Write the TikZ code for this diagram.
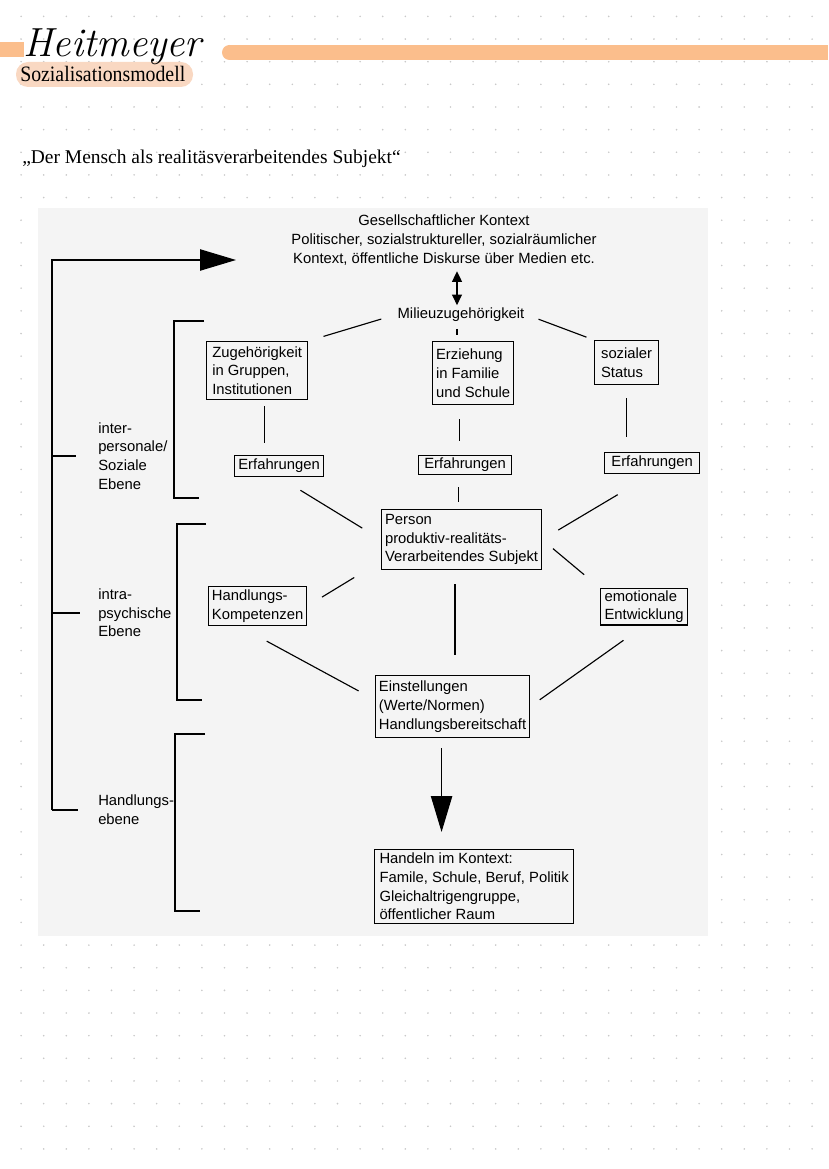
\documentclass[tikz,border=0pt]{standalone}
\usepackage{fontspec}
\usepackage{xcolor}
\usepackage{tikz}
\usetikzlibrary{arrows.meta}
\newfontfamily\diafont{Liberation Sans}
\newfontfamily\quotefont{Liberation Serif}
\newfontfamily\narrowserif[FakeStretch=0.9]{Liberation Serif}
\definecolor{panelgray}{HTML}{F4F4F4}
\definecolor{barorange}{HTML}{FBBE8C}
\definecolor{pillpeach}{HTML}{F9D8C2}
\definecolor{dotgray}{HTML}{C9C9C9}

\begin{document}
\begin{tikzpicture}[x=0.75pt, y=-0.75pt,
	dia/.style={font=\diafont\fontsize{11.1}{14}\selectfont},
	box/.style={dia, draw=black, line width=0.9pt, align=left, inner xsep=2.5pt, inner ysep=1.5pt, anchor=north west},
	lbl/.style={dia, align=left, inner sep=0pt, anchor=west},
	link/.style={draw=black, line width=0.85pt},
	dblarrow/.style={draw=black, line width=0.9pt, arrows={Triangle[length=8pt,width=7.5pt]-Triangle[length=8pt,width=7.5pt]}},
	bigarrow/.style={draw=black, line width=0.9pt, arrows={-Triangle[length=27pt,width=16pt]}}]
	\useasboundingbox (0,0) rectangle (828,1169);
	% dotted paper
	\foreach \gx in {0,...,35}
		\foreach \gy in {0,...,50}
			\fill[dotgray] (21.1+22.6*\gx, 16.4+22.65*\gy) circle [radius=0.9];
	% header
	\fill[barorange] (0,42) rectangle (24,57);
	\fill[barorange] (229.5,45) rectangle (828,60);
	\fill[barorange] (229.5,52.5) circle [radius=7.5];
	\fill[pillpeach, rounded corners=9pt] (16,62) rectangle (193,87);
	\node[anchor=base west, inner sep=0pt, font=\fontsize{30.5}{30.5}\selectfont\itshape] (brand) at (23,57) {Heitmeyer};
	\node[anchor=base west, inner sep=0pt, font=\narrowserif\fontsize{16.5}{16.5}\selectfont] (subtitle) at (20,82) {Sozialisationsmodell};
	\node[anchor=base west, inner sep=0pt, font=\quotefont\fontsize{14.6}{16}\selectfont] (motto) at (22,164) {„Der Mensch als realitäsverarbeitendes Subjekt“};
	% panel
	\fill[panelgray] (38,208) rectangle (708,936);

	\node[dia, align=center, inner sep=0pt] (kontext) at (444,240) {Gesellschaftlicher Kontext\\Politischer, sozialstruktureller, sozialräumlicher\\Kontext, öffentliche Diskurse über Medien etc.};
	\node[dia, inner sep=2pt] (milieu) at (461,315) {Milieuzugehörigkeit};
	\draw[dblarrow, shorten <=4.5pt] ([xshift=-3pt]milieu.north |- kontext.south) -- ([xshift=-3pt]milieu.north);

	\node[box, minimum width=75.75pt, minimum height=43.5pt] (zug) at (206,341) {Zugehörigkeit\\in Gruppen,\\Institutionen};
	\node[box, minimum width=60.75pt, minimum height=47.25pt] (erz) at (432,341) {Erziehung\\in Familie\\und Schule};
	\node[box, minimum width=48pt, minimum height=33pt] (status) at (594,340) {sozialer\\Status};
	\node[box, minimum width=66.75pt, minimum height=15.75pt] (erf1) at (234,455) {Erfahrungen};
	\node[box, minimum width=69.75pt, minimum height=14.25pt] (erf2) at (418,455) {Erfahrungen};
	\node[box, minimum width=71.25pt, minimum height=15.75pt] (erf3) at (604,452) {Erfahrungen};
	\node[box, minimum width=120pt, minimum height=45pt] (person) at (381,509) {Person\\produktiv-realitäts-\\Verarbeitendes Subjekt};
	\node[box, minimum width=72pt, minimum height=29.25pt] (komp) at (208,586) {Handlungs-\\Kompetenzen};
	\node[box, minimum width=65.25pt, minimum height=26.25pt] (emot) at (600,588) {emotionale\\Entwicklung};
	\node[box, minimum width=114.75pt, minimum height=46.5pt] (einst) at (375,675) {Einstellungen\\(Werte/Normen)\\Handlungsbereitschaft};
	\node[box, minimum width=149.25pt, minimum height=55.5pt] (handeln) at (374,849) {Handeln im Kontext:\\Famile, Schule, Beruf, Politik\\Gleichaltrigengruppe,\\öffentlicher Raum};

	\draw[link, shorten <=10.5pt, shorten >=12pt] (milieu.west) -- (zug.north east);
	\draw[link, shorten <=9pt, shorten >=6pt] (milieu.east) -- (status.north west);
	\draw[link, shorten <=3pt, shorten >=4.5pt] ([xshift=-3pt]milieu.south) -- ([xshift=-3pt]milieu.south |- erz.north);
	\draw[link, shorten <=4.5pt, shorten >=9pt] ([xshift=5.25pt]zug.south) -- ([xshift=5.25pt]zug.south |- erf1.north);
	\draw[link, shorten <=10.5pt, shorten >=10.5pt] ([xshift=-4pt]erf2.north |- erz.south) -- ([xshift=-4pt]erf2.north);
	\draw[link, shorten <=9.75pt, shorten >=11.25pt] (status.south) -- (status.south |- erf3.north);
	\draw[link, shorten <=18.75pt, shorten >=16.5pt] (erf1.south) -- (person.west);
	\draw[link, shorten <=9pt, shorten >=5.25pt] ([xshift=-5pt]erf2.south) -- ([xshift=-5pt]erf2.south |- person.north);
	\draw[link, shorten <=30pt, shorten >=14pt] (erf3.south) -- (person.east);
	\draw[link, shorten <=23.5pt, shorten >=13pt] (person.195) -- (komp.east);
	\draw[link, shorten <=10.5pt, shorten >=15.5pt] (person.east) -- (emot.north west);
	\draw[link, shorten <=10.5pt, shorten >=15pt] ([xshift=-5pt]person.south) -- ([xshift=-5pt]person.south |- einst.north);
	\draw[link, shorten <=7.8pt, shorten >=14pt] ([yshift=-7.5pt]komp.south) -- (einst.175);
	\draw[link, shorten <=19pt, shorten >=8.8pt] (emot.south) -- (einst.east);
	\draw[bigarrow, shorten <=7.5pt, shorten >=12.75pt] ([xshift=-8.25pt]einst.south) -- ([xshift=-8.25pt]einst.south |- handeln.north);

	% levels on the left
	\node[lbl] (inter) at (98,456) {inter-\\personale/\\Soziale\\Ebene};
	\node[lbl] (intra) at (98,613) {intra-\\psychische\\Ebene};
	\node[lbl] (handl) at (98,810) {Handlungs-\\ebene};
	\coordinate (spinebot) at (52,810);
	\coordinate (spinetop) at (52,260);
	\coordinate (ctxtip) at (236,260);
	\draw[bigarrow] (spinebot) -- (spinetop) -- (ctxtip);
	\draw[link] (spinebot |- inter.west) -- ([xshift=-16.5pt]inter.west);
	\draw[link] (spinebot |- intra.west) -- ([xshift=-13.5pt]intra.west);
	\draw[link] (spinebot |- handl.west) -- ([xshift=-15pt]handl.west);
	\draw[link] (204,321) -- (174,321) -- (174,498) -- (199,498);
	\draw[link] (206,524) -- (177,524) -- (177,700) -- (202,700);
	\draw[link] (205,734) -- (175,734) -- (175,911) -- (200,911);
\end{tikzpicture}
\end{document}
